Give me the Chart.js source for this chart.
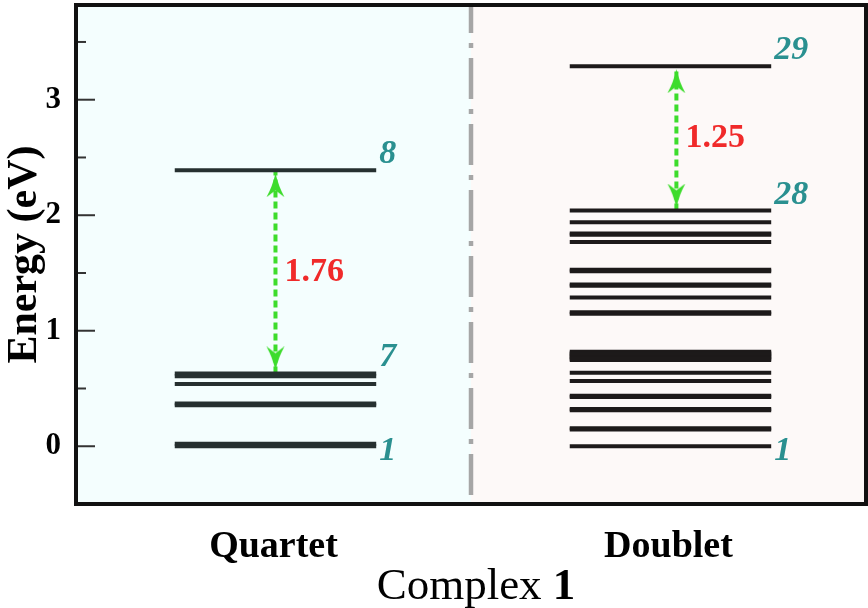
<!DOCTYPE html>
<html>
<head>
<meta charset="utf-8">
<script src="https://cdn.jsdelivr.net/npm/chart.js@4.4.1/dist/chart.umd.min.js"></script>
<style>
  html, body { margin: 0; padding: 0; background: #ffffff; }
  #wrap { width: 868px; height: 608px; }
</style>
</head>
<body>
<div id="wrap"><canvas id="chart" width="868" height="608"></canvas></div>
<script>
// Spin-state manifolds of complex 1 (energies in eV)
const categories = ['Quartet', 'Doublet'];
const quartetLevels = [0.000, 0.022, 0.355, 0.370, 0.539, 0.607, 0.630, 2.390];
const doubletLevels = [
  0.000, 0.144, 0.156, 0.311, 0.323, 0.426, 0.438, 0.565, 0.637,
  0.746, 0.758, 0.770, 0.782, 0.794, 0.806, 0.818,
  1.147, 1.159, 1.288, 1.389, 1.401, 1.515, 1.527,
  1.769, 1.830, 1.842, 1.939, 2.040, 3.290
];
// states numbered next to the levels
const quartetStateLabels = [1, 7, 8];
const doubletStateLabels = [1, 28, 29];
// gap arrows: [lower state, upper state]
const quartetGap = [7, 8];
const doubletGap = [28, 29];
const gapArrowX = [0.505, 1.52];
const yTicks = [0, 1, 2, 3];
const yMinorTicks = [0.5, 1.5, 2.5, 3.5];
const yRange = [-0.5, 3.82];
const xTitle = ['Complex ', '1'];
const yTitle = 'Energy (eV)';

const panels = [
  { levels: quartetLevels, states: quartetStateLabels, gap: quartetGap, color: '#263030', bg: '#f4fefe' },
  { levels: doubletLevels, states: doubletStateLabels, gap: doubletGap, color: '#1d1a1a', bg: '#fdf9f8' }
];
const LEVEL_FROM = 0.25, LEVEL_TO = 0.76;
const SERIF = '"Liberation Serif", "Times New Roman", serif';
const GREEN = '#3ddc2c';

// arrowhead sprite: tip offset a little from the point so it stops at the level line
function makeArrowHead() {
  const W = 19, H = 24, off = 3;
  const c = document.createElement('canvas');
  c.width = W; c.height = 2 * (H + off);
  const g = c.getContext('2d');
  const tip = H + 2 * off;
  g.fillStyle = GREEN;
  g.beginPath();
  g.moveTo(W / 2, tip);
  g.quadraticCurveTo(W / 2 + 3, tip + H * 0.55, W - 0.5, tip + H);
  g.lineTo(W / 2, tip + H * 0.72);
  g.lineTo(0.5, tip + H);
  g.quadraticCurveTo(W / 2 - 3, tip + H * 0.55, W / 2, tip);
  g.closePath();
  g.fill();
  return c;
}
const arrowHead = makeArrowHead();

const datasets = [];
panels.forEach((p, i) => {
  p.levels.forEach(e => {
    datasets.push({
      data: [{ x: i + LEVEL_FROM, y: e }, { x: i + LEVEL_TO, y: e }],
      borderColor: p.color, borderWidth: 4, borderCapStyle: 'butt',
      pointRadius: 0, order: 1
    });
  });
  const lo = p.levels[p.gap[0] - 1], hi = p.levels[p.gap[1] - 1];
  datasets.push({
    data: [{ x: gapArrowX[i], y: lo }, { x: gapArrowX[i], y: hi }],
    borderColor: GREEN, borderWidth: 4, borderDash: [7, 4],
    pointStyle: arrowHead, pointRadius: 10, pointRotation: [180, 0],
    order: 5
  });
});
// dash-dot separator between the two manifolds
datasets.push({
  data: [{ x: 1, y: yRange[1] }, { x: 1, y: yRange[0] }],
  borderColor: '#a6a6a6', borderWidth: 4.5, borderDash: [41, 10, 5, 10], borderDashOffset: 13,
  pointRadius: 0, order: 10
});

const backgroundPlugin = {
  id: 'panelBackground',
  beforeDatasetsDraw(chart) {
    const { ctx, chartArea: a, scales: { x } } = chart;
    ctx.save();
    panels.forEach((p, i) => {
      const x0 = x.getPixelForValue(i), x1 = x.getPixelForValue(i + 1);
      ctx.fillStyle = p.bg;
      ctx.fillRect(x0, a.top, x1 - x0, a.bottom - a.top);
    });
    ctx.restore();
  }
};

const decorPlugin = {
  id: 'decor',
  afterDatasetsDraw(chart) {
    const { ctx, chartArea: a, scales: { x, y } } = chart;
    ctx.save();
    // inward ticks
    ctx.strokeStyle = '#333';
    ctx.lineWidth = 2;
    yTicks.forEach(v => {
      const py = y.getPixelForValue(v);
      ctx.beginPath(); ctx.moveTo(a.left, py); ctx.lineTo(a.left + 19, py); ctx.stroke();
    });
    yMinorTicks.forEach(v => {
      const py = y.getPixelForValue(v);
      ctx.beginPath(); ctx.moveTo(a.left, py); ctx.lineTo(a.left + 10, py); ctx.stroke();
    });
    // frame
    ctx.strokeStyle = '#111';
    ctx.lineWidth = 4;
    ctx.strokeRect(a.left, a.top, a.right - a.left, a.bottom - a.top);

    // state numbers
    ctx.fillStyle = '#2a9090';
    ctx.font = 'italic bold 34px ' + SERIF;
    ctx.textAlign = 'left';
    panels.forEach((p, i) => {
      const px = x.getPixelForValue(i + LEVEL_TO) + 3;
      p.states.forEach(s => {
        const py = y.getPixelForValue(p.levels[s - 1]);
        if (s === 1) {
          ctx.textBaseline = 'middle';
          ctx.fillText(String(s), px, py + 5);
        } else {
          ctx.textBaseline = 'alphabetic';
          ctx.fillText(String(s), px, py - 7);
        }
      });
    });

    // gap values
    ctx.fillStyle = '#f02a2a';
    ctx.font = 'bold 34px ' + SERIF;
    ctx.textBaseline = 'middle';
    panels.forEach((p, i) => {
      const lo = p.levels[p.gap[0] - 1], hi = p.levels[p.gap[1] - 1];
      const px = x.getPixelForValue(gapArrowX[i]) + 9;
      const py = y.getPixelForValue((lo + hi) / 2);
      ctx.fillText((hi - lo).toFixed(2), px, py);
    });
    ctx.restore();
  },
  afterDraw(chart) {
    const { ctx, chartArea: a } = chart;
    ctx.save();
    ctx.fillStyle = '#000';
    ctx.textBaseline = 'alphabetic';
    ctx.textAlign = 'left';
    const fReg = '45px ' + SERIF, fBold = 'bold 45px ' + SERIF;
    ctx.font = fReg; const w0 = ctx.measureText(xTitle[0]).width;
    ctx.font = fBold; const w1 = ctx.measureText(xTitle[1]).width;
    const cx = (a.left + a.right) / 2 + 5;
    const x0 = cx - (w0 + w1) / 2;
    const by = chart.height - 9;
    ctx.font = fReg; ctx.fillText(xTitle[0], x0, by);
    ctx.font = fBold; ctx.fillText(xTitle[1], x0 + w0, by);
    ctx.restore();
  }
};

new Chart(document.getElementById('chart'), {
  type: 'line',
  data: { datasets },
  options: {
    responsive: false,
    animation: false,
    events: [],
    layout: { autoPadding: false, padding: { top: 5, right: 2, left: 0, bottom: 0 } },
    plugins: { legend: { display: false }, tooltip: { enabled: false } },
    scales: {
      x: {
        type: 'linear', min: 0, max: 2,
        grid: { display: false }, border: { display: false },
        afterBuildTicks: s => { s.ticks = categories.map((c, i) => ({ value: i + 0.5 })); },
        afterFit: s => { s.height = 104; s.paddingLeft = 0; s.paddingRight = 0; },
        ticks: {
          callback: v => categories[Math.round(v - 0.5)],
          font: { family: SERIF, weight: 'bold', size: 38 },
          color: '#000', padding: 12, maxRotation: 0, autoSkip: false
        }
      },
      y: {
        type: 'linear', min: yRange[0], max: yRange[1],
        grid: { display: false }, border: { display: false },
        afterBuildTicks: s => { s.ticks = yTicks.map(v => ({ value: v })); },
        afterFit: s => { s.width = 76; s.paddingTop = 0; s.paddingBottom = 0; },
        ticks: {
          font: { family: SERIF, weight: 'bold', size: 31 },
          color: '#000', padding: 7
        },
        title: {
          display: true, text: yTitle,
          font: { family: SERIF, weight: 'bold', size: 42 },
          color: '#000', padding: { top: 0, bottom: 0 }
        }
      }
    }
  },
  plugins: [backgroundPlugin, decorPlugin]
});
</script>
</body>
</html>
